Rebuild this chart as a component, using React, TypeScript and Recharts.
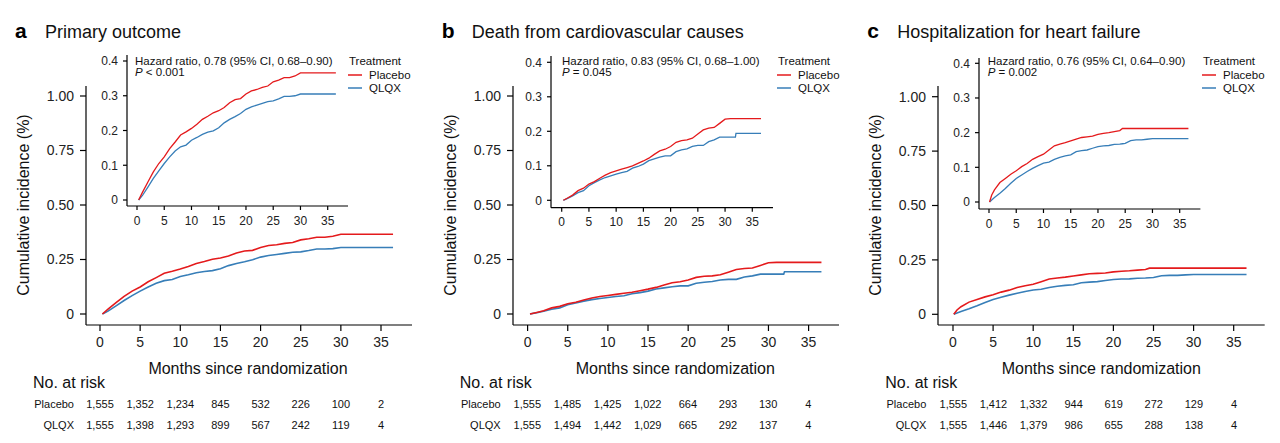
import React from 'react';
import { LineChart, Line, XAxis, YAxis } from 'recharts';

const RED = '#E41A1C';
const BLUE = '#377EB8';
const FONT = '"Liberation Sans", Arial, Helvetica, sans-serif';

// months since randomization, and cumulative incidence
const monthsA = [0.3, 1, 2, 3, 4, 5, 6, 7, 8, 9, 10, 11, 12, 13, 14, 15, 16, 17, 18, 19, 20, 21, 22, 23, 24, 25, 26, 27, 28, 29, 30, 36.5];
const placeboA = [0, 0.022, 0.052, 0.081, 0.105, 0.124, 0.148, 0.167, 0.187, 0.196, 0.206, 0.218, 0.232, 0.241, 0.251, 0.257, 0.266, 0.28, 0.289, 0.292, 0.305, 0.314, 0.318, 0.324, 0.328, 0.34, 0.345, 0.352, 0.352, 0.357, 0.366, 0.366];
const qlqxA = [0, 0.013, 0.037, 0.062, 0.084, 0.105, 0.124, 0.141, 0.153, 0.158, 0.172, 0.18, 0.189, 0.195, 0.199, 0.208, 0.222, 0.232, 0.24, 0.249, 0.261, 0.268, 0.273, 0.278, 0.283, 0.285, 0.291, 0.298, 0.298, 0.3, 0.305, 0.305];

const monthsB = [0.3, 1, 2, 3, 4, 5, 6, 7, 8, 9, 10, 11, 12, 13, 14, 15, 16, 17, 18, 19, 20, 21, 22, 23, 24, 25, 26, 27, 28, 29, 30, 31, 31.9, 32, 36.6];
const placeboB = [0, 0.006, 0.015, 0.028, 0.035, 0.047, 0.054, 0.064, 0.073, 0.08, 0.085, 0.09, 0.095, 0.1, 0.107, 0.114, 0.122, 0.133, 0.143, 0.148, 0.156, 0.168, 0.173, 0.175, 0.18, 0.192, 0.204, 0.209, 0.211, 0.223, 0.235, 0.237, 0.237, 0.237, 0.237];
const qlqxB = [0, 0.005, 0.013, 0.022, 0.028, 0.042, 0.051, 0.059, 0.066, 0.071, 0.076, 0.08, 0.084, 0.093, 0.098, 0.105, 0.115, 0.12, 0.125, 0.129, 0.129, 0.141, 0.146, 0.149, 0.156, 0.159, 0.159, 0.17, 0.175, 0.183, 0.183, 0.183, 0.183, 0.194, 0.194];

const monthsC = [0.1, 0.5, 1, 2, 3, 4, 5, 6, 7, 8, 9, 10, 11, 12, 13, 14, 15, 16, 17, 18, 19, 20, 21, 22, 23, 24, 24.5, 25, 26, 27, 28, 29, 30, 36.6];
const placeboC = [0, 0.02, 0.035, 0.056, 0.068, 0.08, 0.09, 0.102, 0.111, 0.123, 0.131, 0.138, 0.15, 0.162, 0.167, 0.171, 0.176, 0.181, 0.186, 0.188, 0.19, 0.195, 0.198, 0.2, 0.203, 0.206, 0.212, 0.212, 0.212, 0.212, 0.212, 0.212, 0.212, 0.212];
const qlqxC = [0, 0.006, 0.013, 0.025, 0.039, 0.054, 0.068, 0.078, 0.088, 0.097, 0.105, 0.112, 0.115, 0.123, 0.129, 0.133, 0.136, 0.145, 0.148, 0.15, 0.155, 0.16, 0.162, 0.163, 0.166, 0.167, 0.168, 0.169, 0.177, 0.179, 0.179, 0.181, 0.183, 0.183];

const xTicks = [0, 5, 10, 15, 20, 25, 30, 35];
const mainYTicks = [0, 0.25, 0.5, 0.75, 1];
const insetYTicks = [0, 0.1, 0.2, 0.3, 0.4];

const riskPlaceboA = ['1,555', '1,352', '1,234', '845', '532', '226', '100', '2'];
const riskQlqxA = ['1,555', '1,398', '1,293', '899', '567', '242', '119', '4'];
const riskPlaceboB = ['1,555', '1,485', '1,425', '1,022', '664', '293', '130', '4'];
const riskQlqxB = ['1,555', '1,494', '1,442', '1,029', '665', '292', '137', '4'];
const riskPlaceboC = ['1,555', '1,412', '1,332', '944', '619', '272', '129', '4'];
const riskQlqxC = ['1,555', '1,446', '1,379', '986', '655', '288', '138', '4'];

const toRows = (t: number[], p: number[], q: number[]) => t.map((m, i) => ({ t: m, placebo: p[i], qlqx: q[i] }));

interface Geo {
  axisX: number; x0: number; x35: number; right: number;
  top: number; bottom: number; y0: number; yRefPx: number;
}

const Y_W = 60;
const X_H = 40;

const KMChart = ({ data, g, yTicks, yRef, fmtY, fs, sw, tSize, tMarginY, tMarginX }: any) => {
  const geo = g as Geo;
  const pxX = (geo.x35 - geo.x0) / 35;
  const xDomain = [(geo.axisX - geo.x0) / pxX, (geo.right - geo.x0) / pxX];
  const pxY = (geo.y0 - geo.yRefPx) / yRef;
  const yDomain = [(geo.y0 - geo.bottom) / pxY, (geo.y0 - geo.top) / pxY];
  const width = geo.right - geo.axisX + Y_W;
  const height = geo.bottom - geo.top + X_H;
  return (
    <div style={{ position: 'absolute', left: geo.axisX - Y_W, top: geo.top }}>
      <LineChart width={width} height={height} data={data} margin={{ top: 0, right: 0, bottom: 0, left: 0 }} style={{ overflow: 'visible' }}>
        <XAxis type="number" dataKey="t" domain={xDomain} allowDataOverflow ticks={xTicks} interval={0}
          height={X_H} tickSize={tSize} tickMargin={tMarginX}
          axisLine={{ stroke: '#000', strokeWidth: 1.2 }} tickLine={{ stroke: '#000', strokeWidth: 1.2 }}
          tick={{ fill: '#222', fontSize: fs }} />
        <YAxis type="number" domain={yDomain} allowDataOverflow ticks={yTicks} interval={0}
          width={Y_W} tickSize={tSize} tickMargin={tMarginY} tickFormatter={fmtY}
          axisLine={{ stroke: '#000', strokeWidth: 1.2 }} tickLine={{ stroke: '#000', strokeWidth: 1.2 }}
          tick={{ fill: '#222', fontSize: fs }} />
        <Line type="linear" dataKey="qlqx" stroke={BLUE} strokeWidth={sw} dot={false} isAnimationActive={false} />
        <Line type="linear" dataKey="placebo" stroke={RED} strokeWidth={sw} dot={false} isAnimationActive={false} />
      </LineChart>
    </div>
  );
};

const panels = [
  {
    letter: 'a', title: 'Primary outcome',
    data: toRows(monthsA, placeboA, qlqxA),
    main: { axisX: 86, x0: 100, x35: 381, right: 412, top: 86, bottom: 325, y0: 314, yRefPx: 96 },
    inset: { axisX: 127, x0: 137, x35: 327.7, right: 348, top: 55, bottom: 206, y0: 200, yRefPx: 61 },
    hr: 'Hazard ratio, 0.78 (95% CI, 0.68\u20130.90)', p: ' < 0.001', hrX: 135, legX: 349,
    riskP: riskPlaceboA, riskQ: riskQlqxA,
  },
  {
    letter: 'b', title: 'Death from cardiovascular causes',
    data: toRows(monthsB, placeboB, qlqxB),
    main: { axisX: 512.7, x0: 527.3, x35: 808.3, right: 839, top: 86, bottom: 325, y0: 314, yRefPx: 96 },
    inset: { axisX: 551, x0: 561.7, x35: 752.3, right: 773, top: 56, bottom: 207.7, y0: 200.3, yRefPx: 62.3 },
    hr: 'Hazard ratio, 0.83 (95% CI, 0.68\u20131.00)', p: ' = 0.045', hrX: 562, legX: 778,
    riskP: riskPlaceboB, riskQ: riskQlqxB,
  },
  {
    letter: 'c', title: 'Hospitalization for heart failure',
    data: toRows(monthsC, placeboC, qlqxC),
    main: { axisX: 938.3, x0: 953.3, x35: 1234, right: 1265, top: 86, bottom: 325, y0: 314.3, yRefPx: 96.7 },
    inset: { axisX: 979.3, x0: 989.3, x35: 1180, right: 1200.7, top: 58, bottom: 209, y0: 202, yRefPx: 63.3 },
    hr: 'Hazard ratio, 0.76 (95% CI, 0.64\u20130.90)', p: ' = 0.002', hrX: 987.7, legX: 1203,
    riskP: riskPlaceboC, riskQ: riskQlqxC,
  },
];

const fmtMain = (v: number) => (v === 0 ? '0' : v.toFixed(2));
const fmtInset = (v: number) => (v === 0 ? '0' : v.toFixed(1));

export default function App() {
  return (
    <div style={{ position: 'absolute', left: 0, top: 0, width: 1280, height: 443, background: '#fff', fontFamily: FONT, overflow: 'hidden' }}>
      {panels.map((pn) => (
        <React.Fragment key={pn.letter}>
          <KMChart data={pn.data} g={pn.main} yTicks={mainYTicks} yRef={1} fmtY={fmtMain}
            fs={14} sw={1.6} tSize={6} tMarginY={6} tMarginX={6} />
          <KMChart data={pn.data} g={pn.inset} yTicks={insetYTicks} yRef={0.4} fmtY={fmtInset}
            fs={12} sw={1.3} tSize={4} tMarginY={5} tMarginX={6} />
        </React.Fragment>
      ))}
      <svg width={1280} height={443} style={{ position: 'absolute', left: 0, top: 0, pointerEvents: 'none' }} fontFamily={FONT}>
        {panels.map((pn) => {
          const ax = pn.main.axisX;
          const pxX = (pn.main.x35 - pn.main.x0) / 35;
          return (
            <g key={pn.letter}>
              <text x={ax - 71} y={38} fontSize={21} fontWeight="bold" fill="#000">{pn.letter}</text>
              <text x={ax - 41} y={38} fontSize={18} fill="#111">{pn.title}</text>
              <text x={ax - 57} y={205} fontSize={16} fill="#111" textAnchor="middle" transform={`rotate(-90, ${ax - 57}, 205)`}>
                Cumulative incidence (%)
              </text>
              <text x={pn.main.x0 + 148} y={373.5} fontSize={16} fill="#111" textAnchor="middle">Months since randomization</text>
              <text x={ax - 53} y={388} fontSize={16} fill="#111">No. at risk</text>
              <text x={ax - 12} y={408} fontSize={11} fill="#111" textAnchor="end">Placebo</text>
              <text x={ax - 12} y={428.5} fontSize={11} fill="#111" textAnchor="end">QLQX</text>
              {pn.riskP.map((v, i) => (
                <text key={'p' + i} x={pn.main.x0 + xTicks[i] * pxX} y={408} fontSize={11} fill="#111" textAnchor="middle">{v}</text>
              ))}
              {pn.riskQ.map((v, i) => (
                <text key={'q' + i} x={pn.main.x0 + xTicks[i] * pxX} y={428.5} fontSize={11} fill="#111" textAnchor="middle">{v}</text>
              ))}
              <text x={pn.hrX} y={64.5} fontSize={11.5} fill="#111">{pn.hr}</text>
              <text x={pn.hrX} y={76} fontSize={11.5} fill="#111"><tspan fontStyle="italic">P</tspan>{pn.p}</text>
              <text x={pn.legX} y={64.5} fontSize={11.5} fill="#111">Treatment</text>
              <line x1={pn.legX - 1} x2={pn.legX + 13} y1={75} y2={75} stroke={RED} strokeWidth={1.5} />
              <text x={pn.legX + 20} y={79} fontSize={11.5} fill="#111">Placebo</text>
              <line x1={pn.legX - 1} x2={pn.legX + 13} y1={88} y2={88} stroke={BLUE} strokeWidth={1.5} />
              <text x={pn.legX + 20} y={92} fontSize={11.5} fill="#111">QLQX</text>
            </g>
          );
        })}
      </svg>
    </div>
  );
}
